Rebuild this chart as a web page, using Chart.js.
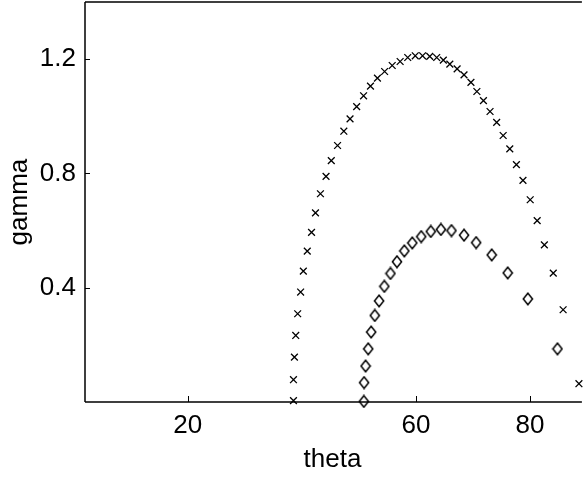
<!DOCTYPE html>
<html><head><meta charset="utf-8">
<script src="https://cdn.jsdelivr.net/npm/chart.js@4"></script>
<style>html,body{margin:0;padding:0;background:#fff;overflow:hidden;width:586px;height:477px}#c{display:block;margin-top:-4px}</style>
</head><body>
<canvas id="c" width="586" height="481"></canvas>
<script>
// ---- data ----
const crossTheta = [38.54,38.54,38.71,38.94,39.28,39.80,40.27,40.96,41.71,42.40,43.27,44.25,45.17,46.27,47.37,48.46,49.62,50.83,52.04,53.26,54.52,55.85,57.24,58.57,59.89,61.17,62.43,63.65,64.81,65.95,67.23,68.44,69.65,70.69,71.84,73.00,74.16,75.30,76.46,77.62,78.77,80.04,81.26,82.52,84.08,85.81,88.58];
const crossGamma = [0.005,0.078,0.157,0.233,0.309,0.385,0.458,0.528,0.594,0.662,0.729,0.790,0.845,0.898,0.948,0.991,1.034,1.072,1.106,1.134,1.157,1.178,1.192,1.206,1.212,1.212,1.210,1.206,1.197,1.183,1.166,1.145,1.119,1.087,1.055,1.017,0.979,0.933,0.886,0.831,0.776,0.708,0.635,0.550,0.451,0.323,0.064];
const diamondTheta = [50.88,50.92,51.18,51.64,52.16,52.79,53.55,54.47,55.54,56.68,57.98,59.37,60.93,62.61,64.39,66.24,68.44,70.57,73.29,76.10,79.63,84.82];
const diamondGamma = [0.002,0.068,0.126,0.186,0.245,0.303,0.354,0.405,0.450,0.491,0.529,0.557,0.579,0.597,0.604,0.600,0.584,0.558,0.515,0.452,0.361,0.186];
const xTickValues = [20, 60, 80];
const yTickValues = [0.4, 0.8, 1.2];
const xRange = [2, 88.75];
const yRange = [0, 1.4];

const toPoints = (xs, ys) => xs.map((x, i) => ({x: x, y: ys[i]}));

// diamond marker (slightly taller than wide, like MATLAB)
const dia = document.createElement('canvas');
dia.width = 12; dia.height = 14;
(function(){
  const g = dia.getContext('2d');
  g.strokeStyle = '#000'; g.lineWidth = 1.5;
  g.beginPath();
  g.moveTo(6, 1.2); g.lineTo(10.6, 7); g.lineTo(6, 12.8); g.lineTo(1.4, 7); g.closePath();
  g.stroke();
})();

const FONT = {family: "'Liberation Sans', Arial, Helvetica, sans-serif", size: 26};

const frame = {
  id: 'frame',
  afterDraw(chart) {
    const {ctx, chartArea: a, scales: {x, y}} = chart;
    ctx.save();
    ctx.strokeStyle = '#000';
    ctx.lineWidth = 1.5;
    ctx.beginPath();
    ctx.moveTo(a.left, a.top); ctx.lineTo(a.right + 2, a.top);
    ctx.moveTo(a.left, a.top); ctx.lineTo(a.left, a.bottom);
    ctx.moveTo(a.left, a.bottom); ctx.lineTo(a.right + 2, a.bottom);
    ctx.stroke();
    ctx.lineWidth = 1;
    ctx.beginPath();
    xTickValues.forEach(v => { const px = Math.round(x.getPixelForValue(v)) + 0.5; ctx.moveTo(px, a.bottom); ctx.lineTo(px, a.bottom - 6); });
    yTickValues.forEach(v => { const py = Math.round(y.getPixelForValue(v)) + 0.5; ctx.moveTo(a.left, py); ctx.lineTo(a.left + 5, py); });
    ctx.stroke();
    ctx.restore();
  }
};

new Chart(document.getElementById('c'), {
  type: 'scatter',
  data: {
    datasets: [
      {data: toPoints(crossTheta, crossGamma), pointStyle: 'crossRot', pointRadius: 4.8, pointHoverRadius: 4.8,
       borderColor: '#000', backgroundColor: '#000', pointBorderWidth: 1.3, showLine: false, clip: false},
      {data: toPoints(diamondTheta, diamondGamma), pointStyle: dia, pointRadius: 5, showLine: false, clip: false}
    ]
  },
  options: {
    responsive: false,
    animation: false,
    devicePixelRatio: 1,
    layout: {padding: {top: 1, right: 0, left: 0, bottom: 0}},
    plugins: {legend: {display: false}, tooltip: {enabled: false}},
    scales: {
      x: {
        type: 'linear', min: xRange[0], max: xRange[1],
        afterBuildTicks: s => { s.ticks = xTickValues.map(v => ({value: v})); },
        afterFit: s => { s.height = 75; s.paddingLeft = 0; s.paddingRight = 0; },
        grid: {display: false, drawTicks: false},
        border: {display: false},
        ticks: {color: '#000', font: FONT, padding: 8, maxRotation: 0, autoSkip: false, callback: v => String(v)},
        title: {display: true, text: 'theta', color: '#000', font: FONT, padding: {top: 0, bottom: 2}}
      },
      y: {
        type: 'linear', min: yRange[0], max: yRange[1],
        afterBuildTicks: s => { s.ticks = yTickValues.map(v => ({value: v})); },
        afterFit: s => { s.width = 85; s.paddingTop = 0; s.paddingBottom = 0; },
        grid: {display: false, drawTicks: false},
        border: {display: false},
        ticks: {color: '#000', font: FONT, padding: 9, autoSkip: false, callback: v => v.toFixed(1)},
        title: {display: true, text: 'gamma', color: '#000', font: FONT, padding: {top: 4, bottom: 0}}
      }
    }
  },
  plugins: [frame]
});
</script>
</body></html>
